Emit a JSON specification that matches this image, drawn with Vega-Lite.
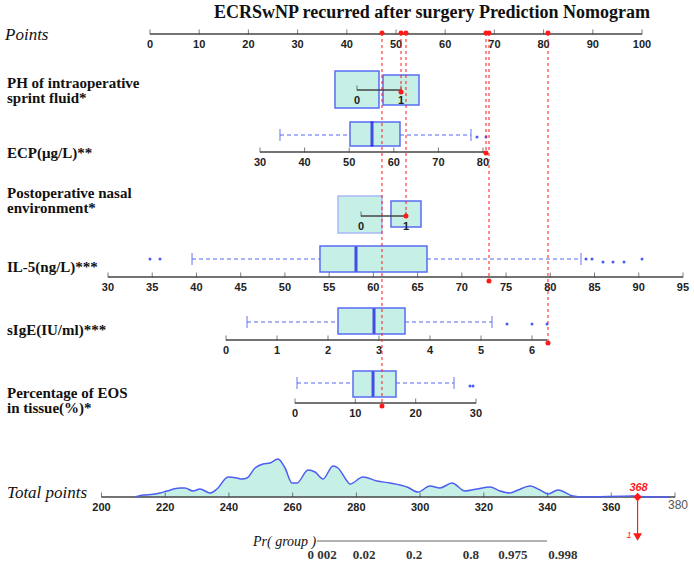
{
  "$schema": "https://vega.github.io/schema/vega-lite/v6.json",
  "width": 694,
  "height": 564,
  "padding": 0,
  "autosize": {"type": "fit", "contains": "padding"},
  "background": "white",
  "config": {"view": {"stroke": null}},
  "datasets": {
    "boxes": [
      {"x": 37.6, "x2": 46.54, "y": 71, "y2": 108, "faint": false},
      {"x": 47.36, "x2": 54.67, "y": 75, "y2": 105, "faint": false},
      {"x": 40.65, "x2": 50.81, "y": 122, "y2": 146, "faint": false},
      {"x": 38.21, "x2": 47.15, "y": 196, "y2": 233, "faint": true},
      {"x": 48.98, "x2": 55.08, "y": 201, "y2": 227, "faint": false},
      {"x": 34.55, "x2": 56.3, "y": 246, "y2": 272, "faint": false},
      {"x": 38.21, "x2": 51.83, "y": 308, "y2": 334, "faint": false},
      {"x": 41.26, "x2": 50.0, "y": 371, "y2": 397, "faint": false}
    ],
    "whiskers": [
      {"x": 26.42, "x2": 40.65, "y": 135}, {"x": 50.81, "x2": 65.24, "y": 135},
      {"x": 8.54, "x2": 34.55, "y": 259}, {"x": 56.3, "x2": 87.6, "y": 259},
      {"x": 19.72, "x2": 38.21, "y": 322}, {"x": 51.83, "x2": 69.51, "y": 322},
      {"x": 29.88, "x2": 41.26, "y": 383}, {"x": 50.0, "x2": 61.79, "y": 383}
    ],
    "caps": [
      {"x": 26.42, "y": 135}, {"x": 65.24, "y": 135},
      {"x": 8.54, "y": 259}, {"x": 87.6, "y": 259},
      {"x": 19.72, "y": 322}, {"x": 69.51, "y": 322},
      {"x": 29.88, "y": 383}, {"x": 61.79, "y": 383}
    ],
    "medians": [
      {"x": 45.12, "y": 134}, {"x": 41.87, "y": 259}, {"x": 45.53, "y": 321}, {"x": 45.33, "y": 384}
    ],
    "outliers": [
      {"x": 66.46, "y": 137}, {"x": 68.29, "y": 137},
      {"x": 0, "y": 259}, {"x": 2.03, "y": 259}, {"x": 88.62, "y": 259}, {"x": 89.84, "y": 259},
      {"x": 92.07, "y": 262}, {"x": 94.11, "y": 262}, {"x": 96.34, "y": 262}, {"x": 100, "y": 259},
      {"x": 72.56, "y": 324}, {"x": 77.64, "y": 324}, {"x": 80.69, "y": 324},
      {"x": 65.04, "y": 386}, {"x": 65.65, "y": 386}
    ],
    "axes": [
      {"x": 0, "x2": 100, "y": 34},
      {"x": 42.07, "x2": 51.02, "y": 90},
      {"x": 22.36, "x2": 68.29, "y": 152},
      {"x": 42.89, "x2": 52.03, "y": 216},
      {"x": -8.54, "x2": 108.33, "y": 277},
      {"x": 15.45, "x2": 80.69, "y": 340},
      {"x": 29.47, "x2": 66.26, "y": 403},
      {"x": -9.86, "x2": 106.71, "y": 497}
    ],
    "ticks": [
      {"x": 0, "y": 34, "label": "0"}, {"x": 10, "y": 34, "label": "10"}, {"x": 20, "y": 34, "label": "20"},
      {"x": 30, "y": 34, "label": "30"}, {"x": 40, "y": 34, "label": "40"}, {"x": 50, "y": 34, "label": "50"},
      {"x": 60, "y": 34, "label": "60"}, {"x": 70, "y": 34, "label": "70"}, {"x": 80, "y": 34, "label": "80"},
      {"x": 90, "y": 34, "label": "90"}, {"x": 100, "y": 34, "label": "100"},
      {"x": 42.07, "y": 90, "label": "0"}, {"x": 51.02, "y": 90, "label": "1"},
      {"x": 22.36, "y": 152, "label": "30"}, {"x": 31.42, "y": 152, "label": "40"}, {"x": 40.49, "y": 152, "label": "50"},
      {"x": 49.55, "y": 152, "label": "60"}, {"x": 58.62, "y": 152, "label": "70"}, {"x": 67.68, "y": 152, "label": "80"},
      {"x": 42.89, "y": 216, "label": "0"}, {"x": 52.03, "y": 216, "label": "1"},
      {"x": -8.54, "y": 277, "label": "30"}, {"x": 0.45, "y": 277, "label": "35"}, {"x": 9.44, "y": 277, "label": "40"},
      {"x": 18.43, "y": 277, "label": "45"}, {"x": 27.42, "y": 277, "label": "50"}, {"x": 36.41, "y": 277, "label": "55"},
      {"x": 45.4, "y": 277, "label": "60"}, {"x": 54.39, "y": 277, "label": "65"}, {"x": 63.38, "y": 277, "label": "70"},
      {"x": 72.37, "y": 277, "label": "75"}, {"x": 81.36, "y": 277, "label": "80"}, {"x": 90.35, "y": 277, "label": "85"},
      {"x": 99.34, "y": 277, "label": "90"}, {"x": 108.33, "y": 277, "label": "95"},
      {"x": 15.45, "y": 340, "label": "0"}, {"x": 25.81, "y": 340, "label": "1"}, {"x": 36.18, "y": 340, "label": "2"},
      {"x": 46.55, "y": 340, "label": "3"}, {"x": 56.91, "y": 340, "label": "4"}, {"x": 67.28, "y": 340, "label": "5"},
      {"x": 77.64, "y": 340, "label": "6"},
      {"x": 29.47, "y": 403, "label": "0"}, {"x": 41.73, "y": 403, "label": "10"}, {"x": 54.0, "y": 403, "label": "20"},
      {"x": 66.26, "y": 403, "label": "30"},
      {"x": -9.86, "y": 497, "label": "200"}, {"x": 3.09, "y": 497, "label": "220"}, {"x": 16.04, "y": 497, "label": "240"},
      {"x": 28.99, "y": 497, "label": "260"}, {"x": 41.95, "y": 497, "label": "280"}, {"x": 54.9, "y": 497, "label": "300"},
      {"x": 67.85, "y": 497, "label": "320"}, {"x": 80.8, "y": 497, "label": "340"}, {"x": 93.76, "y": 497, "label": "360"},
      {"x": 106.71, "y": 497, "label": ""}
    ],
    "density": [
      {"x": -3.05, "y": 497}, {"x": -1.42, "y": 495}, {"x": 0.61, "y": 494.3}, {"x": 2.03, "y": 493},
      {"x": 3.46, "y": 491}, {"x": 6.1, "y": 488}, {"x": 7.11, "y": 488}, {"x": 8.74, "y": 491},
      {"x": 10.16, "y": 489}, {"x": 12.2, "y": 493}, {"x": 13.62, "y": 489}, {"x": 15.85, "y": 477},
      {"x": 17.68, "y": 478}, {"x": 18.7, "y": 479}, {"x": 19.72, "y": 478}, {"x": 21.34, "y": 468},
      {"x": 22.97, "y": 464}, {"x": 24.39, "y": 463}, {"x": 26.02, "y": 459}, {"x": 27.44, "y": 468},
      {"x": 28.86, "y": 483}, {"x": 29.88, "y": 483}, {"x": 32.11, "y": 470}, {"x": 33.54, "y": 472},
      {"x": 35.16, "y": 479}, {"x": 37.2, "y": 466}, {"x": 38.21, "y": 468}, {"x": 40.04, "y": 481},
      {"x": 40.65, "y": 484}, {"x": 43.29, "y": 477}, {"x": 46.14, "y": 481}, {"x": 48.78, "y": 483},
      {"x": 52.24, "y": 487}, {"x": 54.47, "y": 492}, {"x": 56.91, "y": 486}, {"x": 58.94, "y": 488},
      {"x": 61.38, "y": 483}, {"x": 64.02, "y": 491}, {"x": 66.46, "y": 489}, {"x": 69.11, "y": 487},
      {"x": 71.14, "y": 491}, {"x": 73.17, "y": 493}, {"x": 74.8, "y": 490}, {"x": 77.24, "y": 486},
      {"x": 79.27, "y": 490}, {"x": 80.89, "y": 494}, {"x": 82.93, "y": 490}, {"x": 85.98, "y": 496},
      {"x": 88.01, "y": 497}, {"x": 98.17, "y": 496}, {"x": 101.63, "y": 497}, {"x": 105.69, "y": 497}
    ],
    "redlines": [
      {"x": 47.15, "y": 33, "y2": 406}, {"x": 51.02, "y": 33, "y2": 92}, {"x": 52.03, "y": 33, "y2": 216},
      {"x": 68.29, "y": 33, "y2": 153}, {"x": 68.9, "y": 33, "y2": 281}, {"x": 80.89, "y": 33, "y2": 343}
    ],
    "reddots": [
      {"x": 47.15, "y": 33}, {"x": 51.02, "y": 33}, {"x": 52.03, "y": 33}, {"x": 68.29, "y": 33}, {"x": 68.9, "y": 33}, {"x": 80.89, "y": 33},
      {"x": 47.15, "y": 406}, {"x": 51.02, "y": 92}, {"x": 52.03, "y": 216}, {"x": 68.29, "y": 153}, {"x": 68.9, "y": 281}, {"x": 80.89, "y": 343}
    ],
    "varlabels": [
      {"x": -29.07, "y": 83, "label": "PH of intraoperative"},
      {"x": -29.07, "y": 98, "label": "sprint fluid*"},
      {"x": -29.07, "y": 153, "label": "ECP(μg/L)**"},
      {"x": -29.07, "y": 193, "label": "Postoperative nasal"},
      {"x": -29.07, "y": 208, "label": "environment*"},
      {"x": -29.07, "y": 267, "label": "IL-5(ng/L)***"},
      {"x": -29.07, "y": 330, "label": "sIgE(IU/ml)***"},
      {"x": -29.07, "y": 393, "label": "Percentage of EOS"},
      {"x": -29.07, "y": 408, "label": "in tissue(%)*"}
    ],
    "prlabels": [
      {"x": 34.96, "y": 555, "label": "0 002"}, {"x": 43.5, "y": 555, "label": "0.02"}, {"x": 53.66, "y": 555, "label": "0.2"},
      {"x": 65.24, "y": 555, "label": "0.8"}, {"x": 73.78, "y": 555, "label": "0.975"}, {"x": 83.94, "y": 555, "label": "0.998"}
    ]
  },
  "encoding": {
    "x": {"field": "x", "type": "quantitative", "scale": {"domain": [-30.49, 110.57], "nice": false, "zero": false}, "axis": null},
    "y": {"field": "y", "type": "quantitative", "scale": {"domain": [0, 564], "nice": false, "zero": false, "reverse": true}, "axis": null}
  },
  "layer": [
    {"data": {"name": "boxes"}, "mark": {"type": "rect", "fill": "#c6efe6", "strokeWidth": 1.5},
     "encoding": {"x2": {"field": "x2"}, "y2": {"field": "y2"},
       "stroke": {"condition": {"test": "datum.faint", "value": "#aab8f6"}, "value": "#5a6cf2"}}},
    {"data": {"name": "whiskers"}, "mark": {"type": "rule", "color": "#5566f0", "strokeDash": [4, 3], "strokeWidth": 1.2},
     "encoding": {"x2": {"field": "x2"}}},
    {"data": {"name": "caps"}, "mark": {"type": "tick", "orient": "vertical", "size": 12, "thickness": 1.3, "color": "#5566f0"}, "encoding": {}},
    {"data": {"name": "medians"}, "mark": {"type": "tick", "orient": "vertical", "size": 25, "thickness": 3, "color": "#0a0ae6"}, "encoding": {}},
    {"data": {"name": "outliers"}, "mark": {"type": "point", "filled": true, "size": 9, "color": "#4a5af2", "opacity": 1}, "encoding": {}},
    {"data": {"name": "density"}, "mark": {"type": "area", "interpolate": "monotone", "color": "#c6efe6"},
     "encoding": {"y2": {"datum": 497}}},
    {"data": {"name": "axes"}, "mark": {"type": "rule", "color": "#444444", "strokeWidth": 1.5},
     "encoding": {"x2": {"field": "x2"}}},
    {"data": {"values": [{"x": 33.94, "x2": 80.69, "y": 541}]}, "mark": {"type": "rule", "color": "#666666", "strokeWidth": 1},
     "encoding": {"x2": {"field": "x2"}}},
    {"data": {"name": "ticks"}, "mark": {"type": "tick", "orient": "vertical", "size": 5, "yOffset": -2, "thickness": 1, "color": "#444444"}, "encoding": {}},
    {"data": {"name": "ticks"}, "mark": {"type": "text", "dy": 11, "baseline": "middle", "align": "center", "font": "Liberation Sans", "fontWeight": "bold", "fontSize": 11, "color": "#222222"},
     "encoding": {"text": {"field": "label"}}},
    {"data": {"name": "density"}, "mark": {"type": "line", "interpolate": "monotone", "color": "#4d5ff0", "strokeWidth": 1.5}, "encoding": {}},
    {"data": {"name": "redlines"}, "mark": {"type": "rule", "color": "#ff1a1a", "strokeDash": [3, 3], "strokeWidth": 1},
     "encoding": {"y2": {"field": "y2"}}},
    {"data": {"name": "reddots"}, "mark": {"type": "circle", "color": "#ff1a1a", "size": 25, "opacity": 1}, "encoding": {}},
    {"data": {"name": "varlabels"}, "mark": {"type": "text", "align": "left", "baseline": "middle", "font": "Liberation Serif", "fontWeight": "bold", "fontSize": 15, "color": "#111111"},
     "encoding": {"text": {"field": "label"}}},
    {"data": {"values": [{"x": 57.32, "y": 13, "label": "ECRSwNP recurred after surgery Prediction Nomogram"}]},
     "mark": {"type": "text", "align": "center", "baseline": "middle", "font": "Liberation Serif", "fontWeight": "bold", "fontSize": 18, "color": "#111111"},
     "encoding": {"text": {"field": "label"}}},
    {"data": {"values": [{"x": -29.47, "y": 35, "label": "Points"}, {"x": -29.07, "y": 493, "label": "Total points"}]},
     "mark": {"type": "text", "align": "left", "baseline": "middle", "font": "Liberation Serif", "fontStyle": "italic", "fontSize": 17, "color": "#111111"},
     "encoding": {"text": {"field": "label"}}},
    {"data": {"values": [{"x": 20.93, "y": 542, "label": "Pr( group )"}]},
     "mark": {"type": "text", "align": "left", "baseline": "middle", "font": "Liberation Serif", "fontStyle": "italic", "fontSize": 14, "color": "#111111"},
     "encoding": {"text": {"field": "label"}}},
    {"data": {"name": "prlabels"}, "mark": {"type": "text", "align": "center", "baseline": "middle", "font": "Liberation Serif", "fontWeight": "bold", "fontSize": 13, "color": "#333333"},
     "encoding": {"text": {"field": "label"}}},
    {"data": {"values": [{"x": 107.32, "y": 505, "label": "380"}]},
     "mark": {"type": "text", "align": "center", "baseline": "middle", "font": "Liberation Sans", "fontSize": 12, "color": "#555555"},
     "encoding": {"text": {"field": "label"}}},
    {"data": {"values": [{"x": 99.1, "y": 497, "y2": 537}]}, "mark": {"type": "rule", "color": "#ff1a1a", "strokeWidth": 1.2},
     "encoding": {"y2": {"field": "y2"}}},
    {"data": {"values": [{"x": 99.1, "y": 497}]}, "mark": {"type": "point", "shape": "diamond", "filled": true, "size": 70, "color": "#ff1a1a", "opacity": 1}, "encoding": {}},
    {"data": {"values": [{"x": 99.1, "y": 537}]}, "mark": {"type": "point", "shape": "triangle-down", "filled": true, "size": 80, "color": "#ff1a1a", "opacity": 1}, "encoding": {}},
    {"data": {"values": [{"x": 99.3, "y": 488, "label": "368"}]},
     "mark": {"type": "text", "align": "center", "baseline": "middle", "font": "Liberation Sans", "fontWeight": "bold", "fontStyle": "italic", "fontSize": 11, "color": "#ff1a1a"},
     "encoding": {"text": {"field": "label"}}},
    {"data": {"values": [{"x": 97.36, "y": 535, "label": "1"}]},
     "mark": {"type": "text", "align": "center", "baseline": "middle", "font": "Liberation Sans", "fontStyle": "italic", "fontSize": 9, "color": "#ff1a1a"},
     "encoding": {"text": {"field": "label"}}}
  ]
}
